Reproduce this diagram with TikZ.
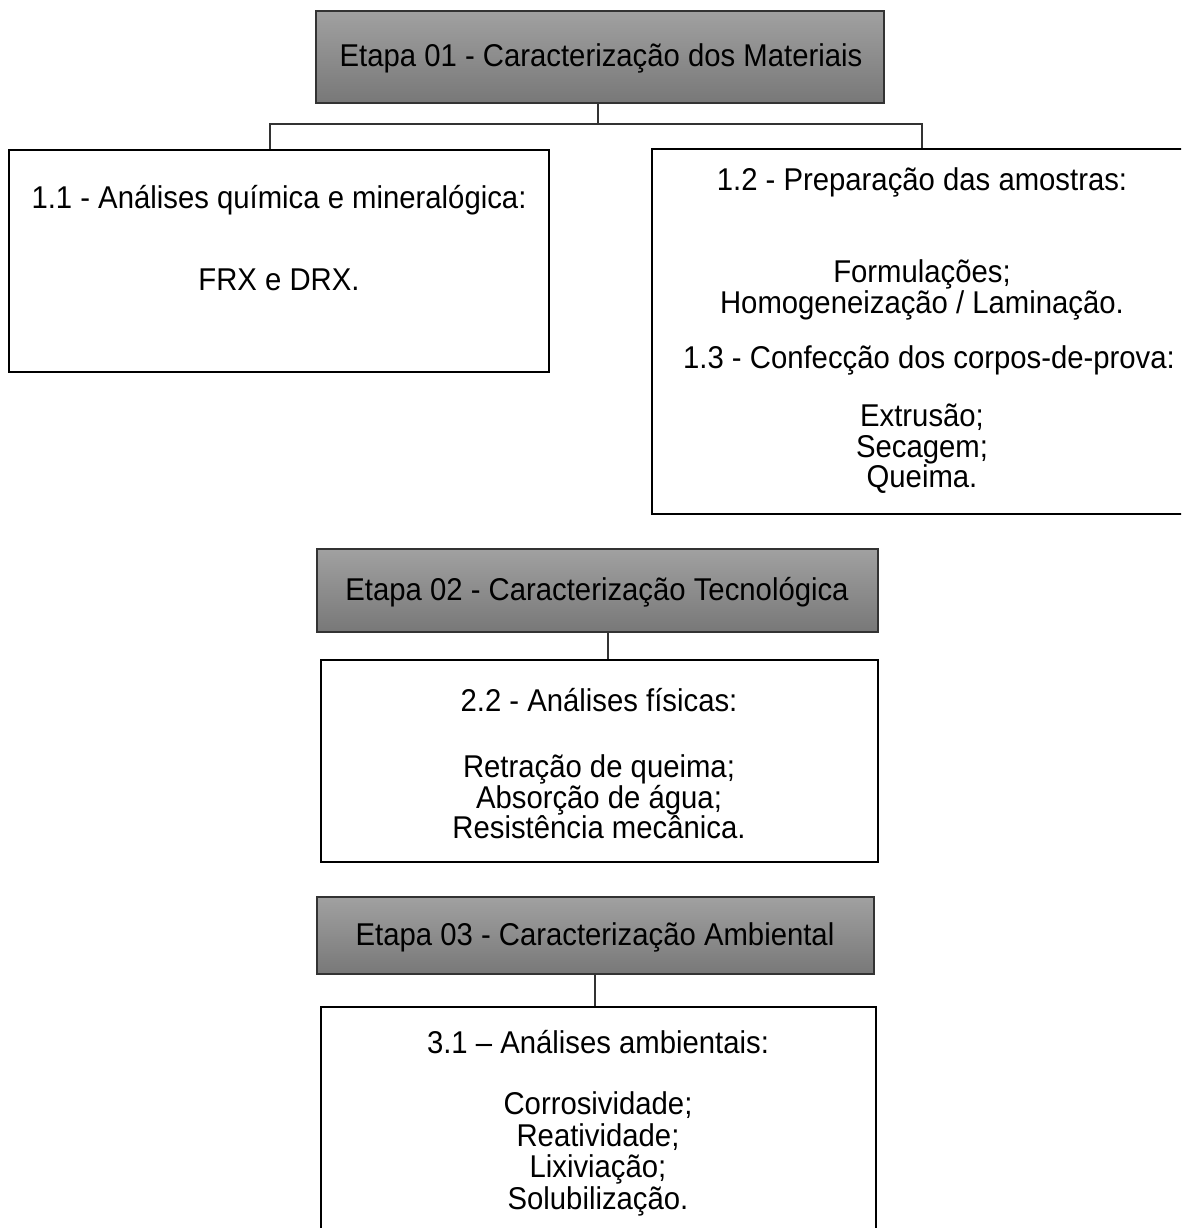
\documentclass[tikz,border=0pt]{standalone}
\usepackage{fontspec}
\setmainfont{Liberation Sans}[FakeStretch=0.93]
\usetikzlibrary{calc}
\definecolor{gtop}{gray}{0.63}
\definecolor{gbot}{gray}{0.47}
\begin{document}
\begin{tikzpicture}[x=1pt,y=-1pt,
  stagebox/.style={rectangle, draw=black!80, line width=1.2pt, top color=gtop, bottom color=gbot, inner sep=0pt},
  stagetext/.style={inner sep=0pt, font=\fontsize{31.5pt}{31pt}\selectfont},
  whitebox/.style={rectangle, draw=black, line width=1.8pt, fill=white, inner sep=0pt},
  boxtext/.style={align=center, inner sep=0pt, font=\fontsize{31.5pt}{30.5pt}\selectfont},
  conn/.style={draw=black!80, line width=1.1pt}
]
\clip (0,0) rectangle (1181,1228);
\fill[white] (0,0) rectangle (1181,1228);

% Stage 1
\node[stagebox, minimum width=568pt, minimum height=92pt] (e1) at (600,57) {};
\node[stagetext] (e1t) at (601,58) {Etapa 01 - Caracterização dos Materiais};

\node[whitebox, minimum width=540pt, minimum height=222pt] (b11) at (279,261) {};
\node[boxtext] (b11a) at (279,200) {1.1 - Análises química e mineralógica:};
\node[boxtext] (b11b) at (279,280) {FRX e DRX.};

\node[whitebox, minimum width=540pt, minimum height=365pt] (b12) at (922,331.5) {};
\node[boxtext] (b12a) at (922,182) {1.2 - Preparação das amostras:};
\node[boxtext] (b12b) at (922,290) {Formulações;\\Homogeneização / Laminação.};
\node[boxtext] (b12c) at (929,360) {1.3 - Confecção dos corpos-de-prova:};
\node[boxtext] (b12d) at (922,449) {Extrusão;\\Secagem;\\Queima.};

\coordinate (split) at (598,124);
\draw[conn] ([xshift=-2pt]e1.south) -- (split);
\draw[conn] ([xshift=-9pt]b11.north) |- (split) -| (b12.north);

% Stage 2
\node[stagebox, minimum width=561pt, minimum height=83pt] (e2) at (597.5,590.5) {};
\node[stagetext] (e2t) at (597,592) {Etapa 02 - Caracterização Tecnológica};

\node[whitebox, minimum width=557pt, minimum height=202pt] (b22) at (599.5,761) {};
\node[boxtext] (b22a) at (599,700) {2.2 - Análises físicas:};
\node[boxtext] (b22b) at (599,797) {Retração de queima;\\Absorção de água;\\Resistência mecânica.};

\draw[conn] ([xshift=10.5pt]e2.south) -- ([xshift=10.5pt]e2.south |- b22.north);

% Stage 3
\node[stagebox, minimum width=557pt, minimum height=77pt] (e3) at (595.5,935.5) {};
\node[stagetext] (e3t) at (595,937) {Etapa 03 - Caracterização Ambiental};

\node[whitebox, minimum width=555pt, minimum height=260pt] (b31) at (598.5,1137) {};
\node[boxtext] (b31a) at (598,1042) {3.1 – Análises ambientais:};
\node[boxtext, font=\fontsize{31.5pt}{31.7pt}\selectfont] (b31b) at (598,1154) {Corrosividade;\\Reatividade;\\Lixiviação;\\Solubilização.};

\draw[conn] ([xshift=-0.5pt]e3.south) -- ([xshift=-0.5pt]e3.south |- b31.north);
\end{tikzpicture}
\end{document}
